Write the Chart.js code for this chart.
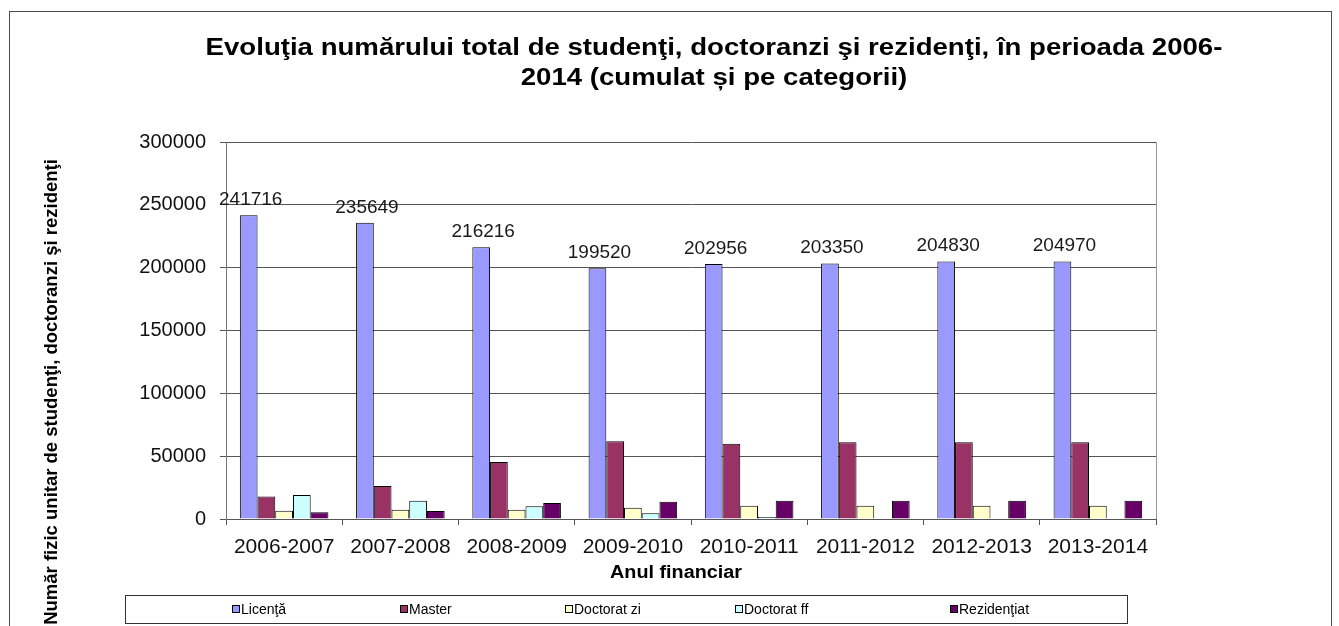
<!DOCTYPE html>
<html>
<head>
<meta charset="utf-8">
<script src="https://cdn.jsdelivr.net/npm/chart.js@4.4.1/dist/chart.umd.min.js"></script>
<style>
    html, body { margin: 0; padding: 0; background: #fff; }
    body { font-family: "Liberation Sans", Arial, sans-serif; color: #000; }
    #wrap { position: relative; width: 1339px; height: 626px; overflow: hidden; }
    #frame { position: absolute; left: 9px; top: 11px; width: 1321px; height: 700px; border: 1px solid #4d4d4d; }
    #chart { position: absolute; left: 0; top: 0; }
    .title { position: absolute; left: 114px; width: 1200px; text-align: center; font-weight: bold; font-size: 23px; line-height: 30px;
        transform: scaleX(1.2); white-space: nowrap; }
    #ytitle { position: absolute; left: 51px; top: 392px; width: 600px; text-align: center; font-weight: bold; font-size: 18.5px;
        transform: translate(-50%, -50%) rotate(-90deg); white-space: nowrap; }
    #xtitle { position: absolute; left: 476px; top: 562px; width: 400px; text-align: center; font-weight: bold; font-size: 18px;
        transform: scaleX(1.1); }
    #legend { position: absolute; left: 125px; top: 595px; width: 1001px; height: 27px; border: 1px solid #333; }
    .item { position: absolute; top: 5px; font-size: 14px; white-space: nowrap; }
    .item i { display: inline-block; width: 6px; height: 6px; border: 1px solid #000; margin-right: 1px; vertical-align: 1px; }
</style>
</head>
<body>
<div id="wrap">
    <div id="frame"></div>
    <canvas id="chart" width="1339" height="626"></canvas>
    <div class="title" style="top:32px">Evoluţia numărului total de studenţi, doctoranzi şi rezidenţi, în perioada 2006-</div>
    <div class="title" style="top:62px">2014 (cumulat și pe categorii)</div>
    <div id="ytitle">Număr fizic unitar de studenţi, doctoranzi şi rezidenţi</div>
    <div id="xtitle">Anul financiar</div>
    <div id="legend"></div>
</div>
<script>
// Academic years on the x axis
const years = ['2006-2007', '2007-2008', '2008-2009', '2009-2010', '2010-2011', '2011-2012', '2012-2013', '2013-2014'];

// Student counts per category (Licenţă values are labelled in the picture, the rest)
const licenta = [241716, 235649, 216216, 199520, 202956, 203350, 204830, 204970];
const master = [18000, 26300, 45400, 61800, 59900, 61000, 61000, 61000];
const doctoratZi = [6600, 7400, 7400, 9000, 10600, 10600, 10600, 10600];
const doctoratFf = [19100, 14600, 10100, 4500, 1600, 300, 0, 0];
const rezidentiat = [5300, 6400, 12700, 13800, 14600, 14600, 14600, 14600];

const seriesNames = ['Licenţă', 'Master', 'Doctorat zi', 'Doctorat ff', 'Rezidenţiat'];
const seriesColors = ['#9999ff', '#993366', '#ffffcc', '#ccffff', '#660066'];
const yTicks = [0, 50000, 100000, 150000, 200000, 250000, 300000];

const legendX = [232, 400, 565, 735, 950];

// ── HTML legend in the boxed strip under the axis ──
const legendBox = document.getElementById('legend');
seriesNames.forEach((name, i) => {
    const el = document.createElement('div');
    el.className = 'item';
    el.style.left = (legendX[i] - 126) + 'px';
    el.innerHTML = `<i style="background:${seriesColors[i]}"></i>${name}`;
    legendBox.appendChild(el);
});

// labels over the first series + right border of plot area
const valueLabels = {
    id: 'valueLabels',
    afterDatasetsDraw(chart) {
        const { ctx, chartArea } = chart;
        ctx.save();
        ctx.strokeStyle = '#9a9a9a';
        ctx.lineWidth = 1;
        ctx.beginPath();
        ctx.moveTo(chartArea.right + 0.5, chartArea.top);
        ctx.lineTo(chartArea.right + 0.5, chartArea.bottom);
        ctx.stroke();

        const meta = chart.getDatasetMeta(0);
        ctx.font = '19px "Liberation Sans", Arial, sans-serif';
        ctx.fillStyle = '#1a1a1a';
        ctx.textAlign = 'center';
        ctx.textBaseline = 'bottom';
        meta.data.forEach((bar, i) => {
            ctx.fillText(String(licenta[i]), bar.x + 2, bar.y - 6);
        });
        ctx.restore();
    },
};

const seriesData = [licenta, master, doctoratZi, doctoratFf, rezidentiat];

new Chart(document.getElementById('chart'), {
    type: 'bar',
    data: {
        labels: years,
        datasets: seriesNames.map((name, i) => ({
            label: name,
            data: seriesData[i],
            backgroundColor: seriesColors[i],
            borderColor: '#000',
            borderWidth: 1,
            borderSkipped: 'bottom',
            categoryPercentage: 0.762,
            barPercentage: 1.0,
        })),
    },
    plugins: [valueLabels],
    options: {
        responsive: false,
        animation: false,
        layout: { padding: { top: 142, left: 60, right: 183, bottom: 0 } },
        plugins: {
            legend: { display: false },
            tooltip: { enabled: false },
        },
        scales: {
            x: {
                afterFit: scale => { scale.height = 107; },
                grid: { offset: true, drawOnChartArea: false, tickLength: 6, color: '#555' },
                border: { color: '#555' },
                ticks: {
                    padding: 10,
                    color: '#111',
                    font: { size: 21, family: '"Liberation Sans", Arial, sans-serif' },
                    maxRotation: 0,
                },
            },
            y: {
                min: 0,
                max: 300000,
                afterFit: scale => { scale.width = 166; },
                afterBuildTicks: scale => { scale.ticks = yTicks.map(v => ({ value: v })); },
                grid: { color: '#555', tickLength: 6 },
                border: { color: '#777' },
                ticks: {
                    padding: 14,
                    color: '#111',
                    font: { size: 20, family: '"Liberation Sans", Arial, sans-serif' },
                    callback: v => String(v),
                },
            },
        },
    },
});
</script>
</body>
</html>
